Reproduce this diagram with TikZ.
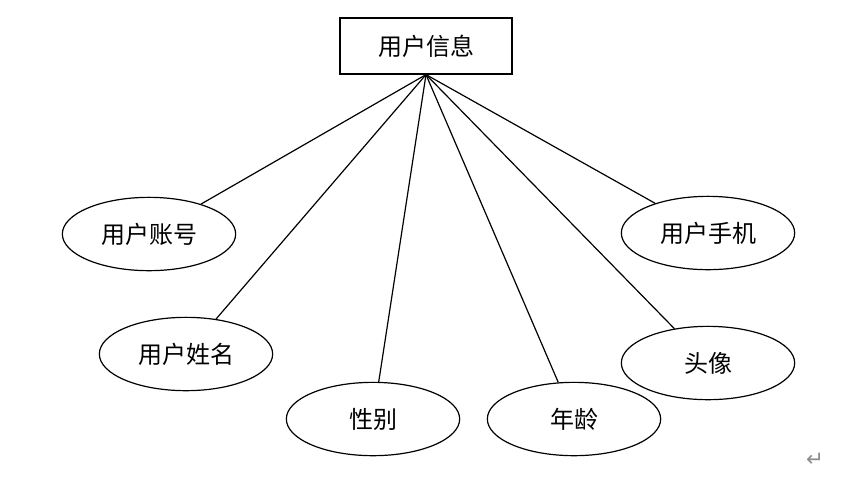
\documentclass[tikz,border=0pt]{standalone}
\usepackage{fontspec}
\newfontfamily\cjk{Noto Sans CJK SC}
\newfontfamily\symfont{DejaVu Sans}
\usetikzlibrary{shapes.geometric}

\begin{document}
\begin{tikzpicture}[x=0.75pt,y=-0.75pt]
	\tikzstyle{entity}=[draw, line width=0.9pt, minimum width=129pt, minimum height=42pt, font=\cjk\fontsize{18}{21}\selectfont]
	\tikzstyle{attr}=[ellipse, draw, line width=0.9pt, inner sep=0pt, minimum width=130pt, minimum height=55pt, font=\cjk\fontsize{18}{21}\selectfont]
	\tikzstyle{link}=[line width=0.9pt]

	\useasboundingbox (0,0) rectangle (855,480);

	\node (info) [entity] at (426,46) {用户信息};

	\node (acct) [attr] at (149,234) {用户账号};
	\node (uname) [attr] at (186,354) {用户姓名};
	\node (sex) [attr] at (373,419) {性别};
	\node (age) [attr] at (574,419) {年龄};
	\node (avatar) [attr] at (708,363) {头像};
	\node (phone) [attr] at (708,233) {用户手机};

	\draw [link] (info.south) -- (acct);
	\draw [link] (info.south) -- (uname);
	\draw [link] (info.south) -- (sex);
	\draw [link] (info.south) -- (age);
	\draw [link] (info.south) -- (avatar);
	\draw [link] (info.south) -- (phone);

	% paragraph mark
	\node (mark) [text=black!45, font=\symfont\fontsize{16}{18}\selectfont] at (815,460) {↵};
\end{tikzpicture}
\end{document}
